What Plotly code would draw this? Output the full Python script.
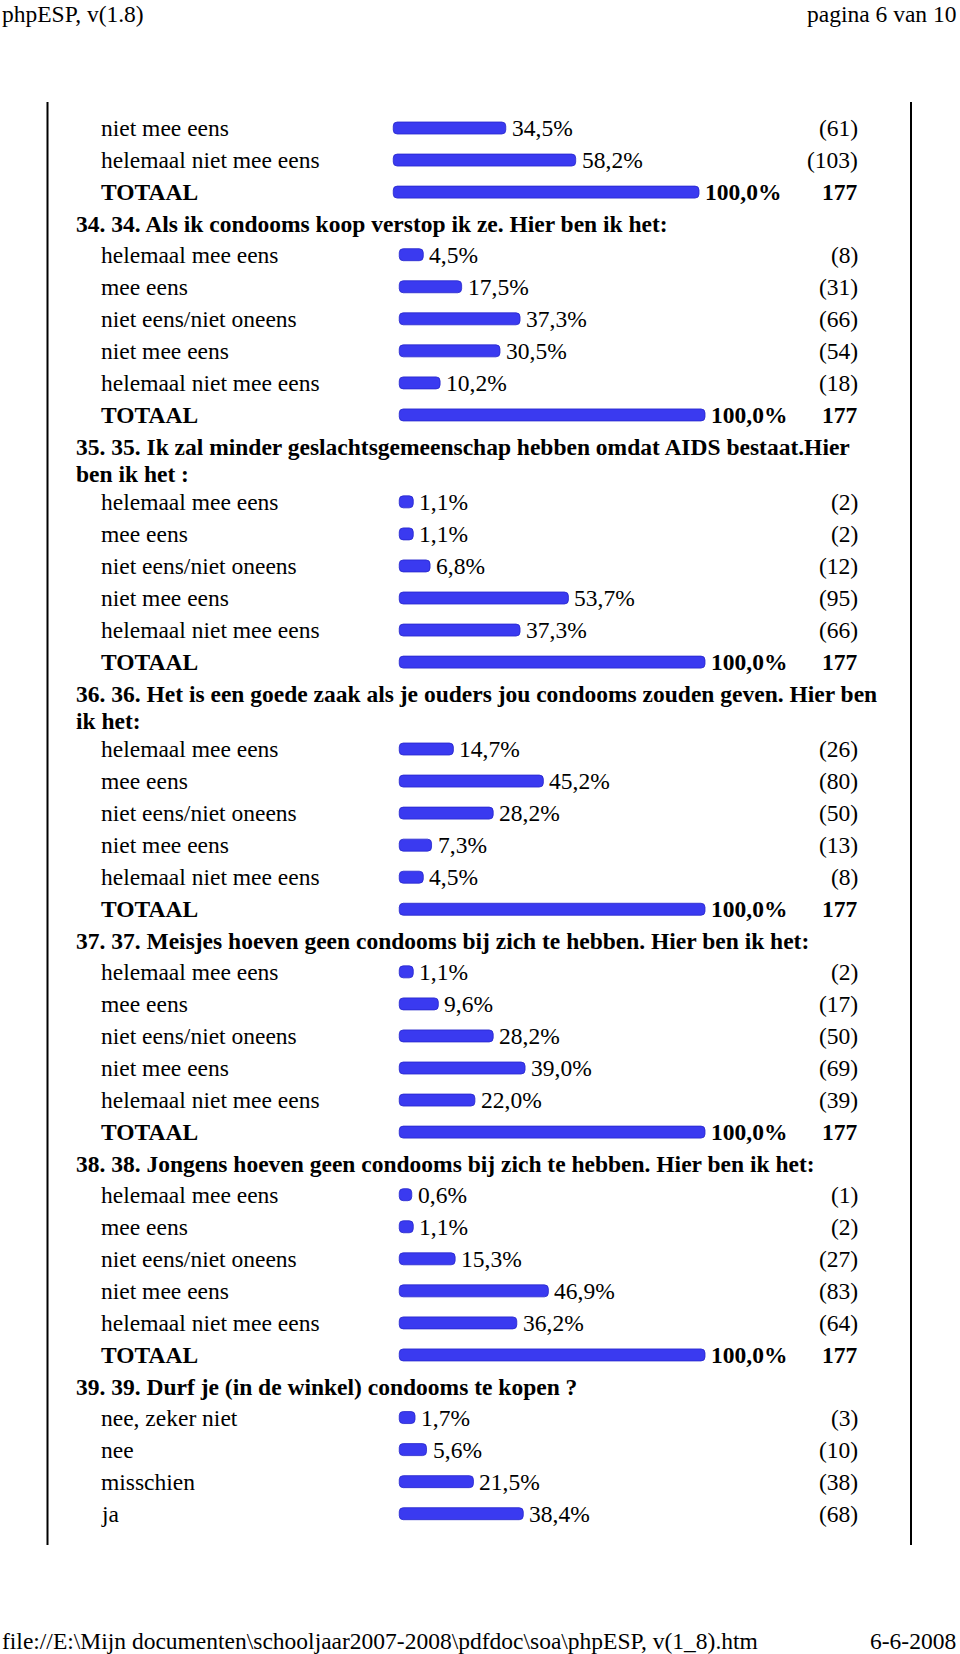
import plotly.graph_objects as go

# ---------------- data ----------------
scale5 = ["helemaal mee eens", "mee eens", "niet eens/niet oneens",
          "niet mee eens", "helemaal niet mee eens"]

g0_labels = ["niet mee eens", "helemaal niet mee eens"]
g0_pct = [34.5, 58.2]
g0_n = [61, 103]

q34_title = ["34. 34. Als ik condooms koop verstop ik ze. Hier ben ik het:"]
q34_pct = [4.5, 17.5, 37.3, 30.5, 10.2]
q34_n = [8, 31, 66, 54, 18]

q35_title = ["35. 35. Ik zal minder geslachtsgemeenschap hebben omdat AIDS bestaat.Hier",
             "ben ik het :"]
q35_pct = [1.1, 1.1, 6.8, 53.7, 37.3]
q35_n = [2, 2, 12, 95, 66]

q36_title = ["36. 36. Het is een goede zaak als je ouders jou condooms zouden geven. Hier ben",
             "ik het:"]
q36_pct = [14.7, 45.2, 28.2, 7.3, 4.5]
q36_n = [26, 80, 50, 13, 8]

q37_title = ["37. 37. Meisjes hoeven geen condooms bij zich te hebben. Hier ben ik het:"]
q37_pct = [1.1, 9.6, 28.2, 39.0, 22.0]
q37_n = [2, 17, 50, 69, 39]

q38_title = ["38. 38. Jongens hoeven geen condooms bij zich te hebben. Hier ben ik het:"]
q38_pct = [0.6, 1.1, 15.3, 46.9, 36.2]
q38_n = [1, 2, 27, 83, 64]

q39_title = ["39. 39. Durf je (in de winkel) condooms te kopen ?"]
q39_labels = ["nee, zeker niet", "nee", "misschien", "ja"]
q39_pct = [1.7, 5.6, 21.5, 38.4]
q39_n = [3, 10, 38, 68]

total_label = "TOTAAL"
total_pct = 100.0
total_n = 177

page_head_left = "phpESP, v(1.8)"
page_head_right = "pagina 6 van 10"
page_foot_left = "file://E:\\Mijn documenten\\schooljaar2007-2008\\pdfdoc\\soa\\phpESP, v(1_8).htm"
page_foot_right = "6-6-2008"

sections = [
    dict(title=[], labels=g0_labels, pct=g0_pct, n=g0_n, total=True, axis="x2"),
    dict(title=q34_title, labels=scale5, pct=q34_pct, n=q34_n, total=True, axis="x"),
    dict(title=q35_title, labels=scale5, pct=q35_pct, n=q35_n, total=True, axis="x"),
    dict(title=q36_title, labels=scale5, pct=q36_pct, n=q36_n, total=True, axis="x"),
    dict(title=q37_title, labels=scale5, pct=q37_pct, n=q37_n, total=True, axis="x"),
    dict(title=q38_title, labels=scale5, pct=q38_pct, n=q38_n, total=True, axis="x"),
    dict(title=q39_title, labels=q39_labels, pct=q39_pct, n=q39_n, total=False, axis="x"),
]

# ---------------- layout constants ----------------
W, H = 960, 1654
FONT = "Liberation Serif, Times New Roman, serif"
FS = 23.5
BLUE = "#3a3af0"
FIRST_Y = 128.0
ROW = 32.05
ROW_TO_HEAD = 32.0
HEAD_LINE = 26.6
HEAD_TO_ROW_1 = 30.6     # after a one-line question title
HEAD_TO_ROW_2 = 28.3     # after a two-line question title
K = 2.95            # px per percent
CAP = 10.75 / K     # rounded end-cap of the bar image, in percent units
X0 = 410.0          # pixel of 0 % (main)
X0_FIRST = 404.0    # pixel of 0 % (continued block at top)
LABEL_X = 99
HEAD_X = 74
COUNT_X = 860

def fmt(p):
    return ("%.1f" % p).replace(".", ",") + "%"

# ---------------- build ----------------
bars = {"x": dict(y=[], v=[]), "x2": dict(y=[], v=[])}
ann = []
y = FIRST_Y
prev_row = False
for s in sections:
    if s["title"]:
        if prev_row:
            y += ROW_TO_HEAD
        for i, t in enumerate(s["title"]):
            if i > 0:
                y += HEAD_LINE
            ann.append(dict(xref="paper", yref="y", x=HEAD_X / W, y=y, text="<b>%s</b>" % t,
                            xanchor="left", yanchor="middle", showarrow=False))
        y += HEAD_TO_ROW_1 if len(s["title"]) == 1 else HEAD_TO_ROW_2
    else:
        if prev_row:
            y += ROW
    labels = list(s["labels"]) + ([total_label] if s["total"] else [])
    pcts = list(s["pct"]) + ([total_pct] if s["total"] else [])
    ns = list(s["n"]) + ([total_n] if s["total"] else [])
    for j, (lab, p, n) in enumerate(zip(labels, pcts, ns)):
        if j > 0:
            y += ROW
        is_tot = s["total"] and j == len(labels) - 1
        b = (lambda t: "<b>%s</b>" % t) if is_tot else (lambda t: t)
        bars[s["axis"]]["y"].append(y)
        bars[s["axis"]]["v"].append(p)
        ann.append(dict(xref="paper", yref="y", x=LABEL_X / W, y=y, text=b(lab),
                        xanchor="left", yanchor="middle", showarrow=False))
        ann.append(dict(xref=s["axis"], yref="y", x=p, y=y, text=b(fmt(p)), xshift=4,
                        xanchor="left", yanchor="middle", showarrow=False))
        ann.append(dict(xref="paper", yref="y", x=COUNT_X / W, y=y,
                        text=b(str(n)) if is_tot else "(%d)" % n,
                        xanchor="right", yanchor="middle", showarrow=False))
    prev_row = True

fig = go.Figure()
for ax in ("x", "x2"):
    d = bars[ax]
    fig.add_trace(go.Bar(
        orientation="h", y=d["y"], x=[v + CAP for v in d["v"]], base=-CAP,
        width=12, xaxis=ax, yaxis="y",
        marker=dict(color=BLUE, cornerradius=4, line=dict(color="#2626cc", width=0.8)),
        hoverinfo="skip", showlegend=False,
    ))

# page header / footer
ann += [
    dict(xref="paper", yref="y", x=0, y=14, text=page_head_left, xanchor="left",
         yanchor="middle", showarrow=False),
    dict(xref="paper", yref="y", x=958 / W, y=14, text=page_head_right, xanchor="right",
         yanchor="middle", showarrow=False),
    dict(xref="paper", yref="y", x=0, y=1641, text=page_foot_left, xanchor="left",
         yanchor="middle", showarrow=False),
    dict(xref="paper", yref="y", x=958 / W, y=1641, text=page_foot_right, xanchor="right",
         yanchor="middle", showarrow=False),
]

shapes = [
    dict(type="line", xref="paper", yref="y", x0=47.5 / W, x1=47.5 / W, y0=102, y1=1545,
         line=dict(color="black", width=2)),
    dict(type="line", xref="paper", yref="y", x0=911 / W, x1=911 / W, y0=102, y1=1545,
         line=dict(color="black", width=2)),
]

def xrange(x0):
    return [-x0 / K, (W - x0) / K]

fig.update_layout(
    width=W, height=H, autosize=False,
    margin=dict(l=0, r=0, t=0, b=0, pad=0),
    paper_bgcolor="white", plot_bgcolor="white",
    font=dict(family=FONT, size=FS, color="black"),
    barmode="overlay",
    xaxis=dict(range=xrange(X0), visible=False, fixedrange=True, domain=[0, 1]),
    xaxis2=dict(range=xrange(X0_FIRST), visible=False, fixedrange=True, overlaying="x",
                domain=[0, 1]),
    yaxis=dict(range=[H, 0], visible=False, fixedrange=True, domain=[0, 1]),
    annotations=ann, shapes=shapes,
)

fig.write_html("out.html", config={"displayModeBar": False},
               post_script="document.body.style.margin='0';document.body.style.overflow='hidden';")
